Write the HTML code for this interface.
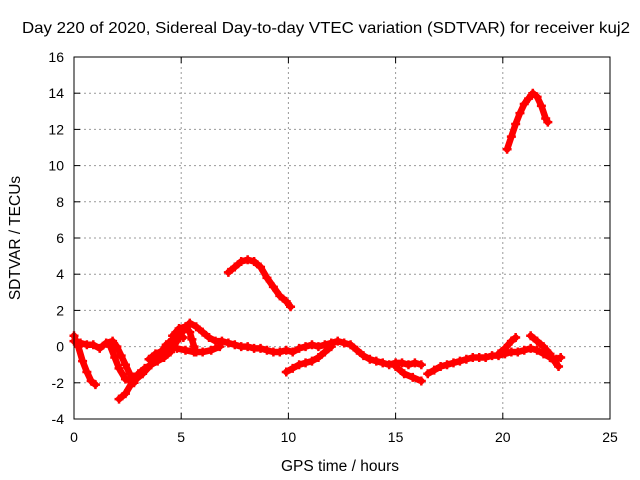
<!DOCTYPE html>
<html><head><meta charset="utf-8"><style>
html,body{margin:0;padding:0;background:#fff;}
svg{display:block;font-family:"Liberation Sans",sans-serif;}
</style></head><body>
<svg id="chart" width="640" height="480">
<text x="22" y="33" font-size="16" textLength="608" lengthAdjust="spacingAndGlyphs">Day 220 of 2020, Sidereal Day-to-day VTEC variation (SDTVAR) for receiver kuj2</text>
<text x="340" y="471" font-size="15.5" text-anchor="middle">GPS time / hours</text>
<text transform="translate(20,238) rotate(-90)" font-size="15.5" text-anchor="middle">SDTVAR / TECUs</text>
<g id="grid"></g>
<g id="ticks"></g>
<g id="series"></g>
<rect x="74" y="57" width="536" height="362" fill="none" stroke="#000" stroke-width="1"/>
</svg>
<script>
const xTicks=[0,5,10,15,20,25];
const yTicks=[-4,-2,0,2,4,6,8,10,12,14,16];
const segPeak=[[20.2,10.9],[20.4,11.6],[20.6,12.3],[20.8,12.9],[21.0,13.4],[21.2,13.7],[21.4,14.0],[21.6,13.8],[21.8,13.3],[22.0,12.6],[22.1,12.4]];
const segMid=[[7.2,4.1],[7.5,4.4],[7.8,4.7],[8.1,4.8],[8.4,4.7],[8.7,4.4],[9.0,3.8],[9.3,3.3],[9.6,2.8],[9.9,2.5],[10.1,2.2]];
const seg1=[[0,0.6],[0.2,0.0],[0.4,-0.8],[0.6,-1.4],[0.8,-1.9],[1.0,-2.1]];
const seg2=[[0,0.3],[0.3,0.2],[0.6,0.1],[0.9,0.1],[1.2,-0.1],[1.5,0.2],[1.8,0.3],[2.0,0.0],[2.2,-0.5],[2.4,-1.0],[2.6,-1.5],[2.8,-2.0]];
const seg3=[[2.1,-2.9],[2.4,-2.6],[2.7,-2.0],[3.0,-1.5],[3.3,-1.2],[3.6,-1.0],[3.9,-0.8],[4.2,-0.6],[4.5,-0.3],[4.8,0.3],[5.1,0.9],[5.4,1.3],[5.7,1.1],[6.0,0.8],[6.3,0.5],[6.6,0.3],[6.9,0.3],[7.2,0.2],[7.5,0.1],[7.8,0.0],[8.1,0.0],[8.4,-0.1],[8.7,-0.1],[9.0,-0.2],[9.3,-0.3],[9.6,-0.3],[9.9,-0.2],[10.2,-0.3],[10.5,-0.1],[10.8,0.0],[11.1,0.1],[11.4,0.0],[11.7,0.1],[12.0,0.2],[12.3,0.3],[12.6,0.2],[12.9,0.1],[13.2,-0.2],[13.5,-0.5],[13.8,-0.7],[14.1,-0.8],[14.4,-0.9],[14.7,-1.0],[15.0,-0.9],[15.3,-0.9],[15.6,-1.0],[15.9,-0.9],[16.2,-1.0]];
const seg4=[[15.0,-1.1],[15.4,-1.5],[15.8,-1.7],[16.2,-1.9]];
const seg5=[[16.5,-1.5],[16.8,-1.3],[17.1,-1.1],[17.4,-1.0],[17.7,-0.9],[18.0,-0.8],[18.3,-0.7],[18.6,-0.6],[18.9,-0.6],[19.2,-0.6],[19.5,-0.5],[19.8,-0.5],[20.1,-0.4],[20.4,-0.3],[20.7,-0.3],[21.0,-0.2],[21.3,-0.1],[21.6,-0.2],[21.9,-0.4],[22.2,-0.6],[22.5,-0.7],[22.7,-0.6]];
const seg6=[[19.8,-0.4],[20.1,-0.1],[20.4,0.3],[20.6,0.5]];
const seg7=[[21.3,0.6],[21.6,0.3],[21.9,0.0],[22.2,-0.4],[22.4,-0.8],[22.6,-1.1]];
const seg8=[[9.9,-1.4],[10.2,-1.2],[10.5,-1.0],[10.8,-0.9],[11.1,-0.8],[11.4,-0.6],[11.7,-0.3],[12.0,0.0]];
const seg9=[[1.7,0.0],[1.9,-0.6],[2.1,-1.2],[2.4,-1.8],[2.8,-1.9],[3.2,-1.5],[3.6,-1.0],[4.0,-0.4],[4.3,0.1],[4.6,0.4],[4.9,0.6],[5.1,0.5]];
const seg10=[[3.5,-0.7],[3.8,-0.4],[4.2,-0.2],[4.5,0.0],[4.8,-0.1],[5.2,-0.2],[5.6,-0.3],[6.0,-0.3],[6.4,-0.2],[6.8,0.0]];
const seg11=[[4.6,0.6],[4.9,1.0],[5.2,1.1],[5.4,0.8],[5.5,0.4],[5.6,0.0],[5.7,-0.3]];
const segments=[segPeak,segMid,seg1,seg2,seg3,seg4,seg5,seg6,seg7,seg8,seg9,seg10,seg11];

const NS="http://www.w3.org/2000/svg";
const X0=74,X1=610,Y0=419,Y1=57,XMIN=0,XMAX=25,YMIN=-4,YMAX=16;
function sx(v){return X0+(v-XMIN)/(XMAX-XMIN)*(X1-X0);}
function sy(v){return Y0-(v-YMIN)/(YMAX-YMIN)*(Y0-Y1);}
function mk(tag,attrs,parent){const e=document.createElementNS(NS,tag);for(const k in attrs)e.setAttribute(k,attrs[k]);parent.appendChild(e);return e;}
const grid=document.getElementById('grid'),ticks=document.getElementById('ticks'),series=document.getElementById('series');
xTicks.forEach(t=>{
  const x=sx(t);
  if(t>XMIN&&t<XMAX){const g=mk('line',{x1:x,x2:x,y1:Y1,y2:Y0,stroke:'#999','stroke-dasharray':'2,3'},grid);
  
  }
  mk('line',{x1:x,x2:x,y1:Y0,y2:Y0-6,stroke:'#000'},grid);
  mk('line',{x1:x,x2:x,y1:Y1,y2:Y1+6,stroke:'#000'},grid);
  const l=mk('text',{x:x,y:Y0+23,'font-size':14,'text-anchor':'middle'},ticks);
  l.textContent=t;
  
  
});
yTicks.forEach(t=>{
  const y=sy(t);
  if(t>YMIN&&t<YMAX){const g=mk('line',{x1:X0,x2:X1,y1:y,y2:y,stroke:'#999','stroke-dasharray':'2,3'},grid);
  
  }
  mk('line',{x1:X0,x2:X0+6,y1:y,y2:y,stroke:'#000'},grid);
  mk('line',{x1:X1,x2:X1-6,y1:y,y2:y,stroke:'#000'},grid);
  const l=mk('text',{x:X0-10,y:y+5,'font-size':14,'text-anchor':'end'},ticks);
  l.textContent=t;
  
  
});
segments.forEach(seg=>{
  const pl=mk('polyline',{points:seg.map(p=>sx(p[0])+','+sy(p[1])).join(' '),fill:'none',stroke:'#f00','stroke-width':6.5,'stroke-linejoin':'round','stroke-linecap':'round'},series);
  
  
  seg.forEach(p=>{
    const x=sx(p[0]),y=sy(p[1]);
    const m=mk('path',{d:`M${x-4.5},${y}H${x+4.5}M${x},${y-4.5}V${y+4.5}`,stroke:'#f00','stroke-width':2.5},series);
    
    
  });
});
</script>
</body></html>
